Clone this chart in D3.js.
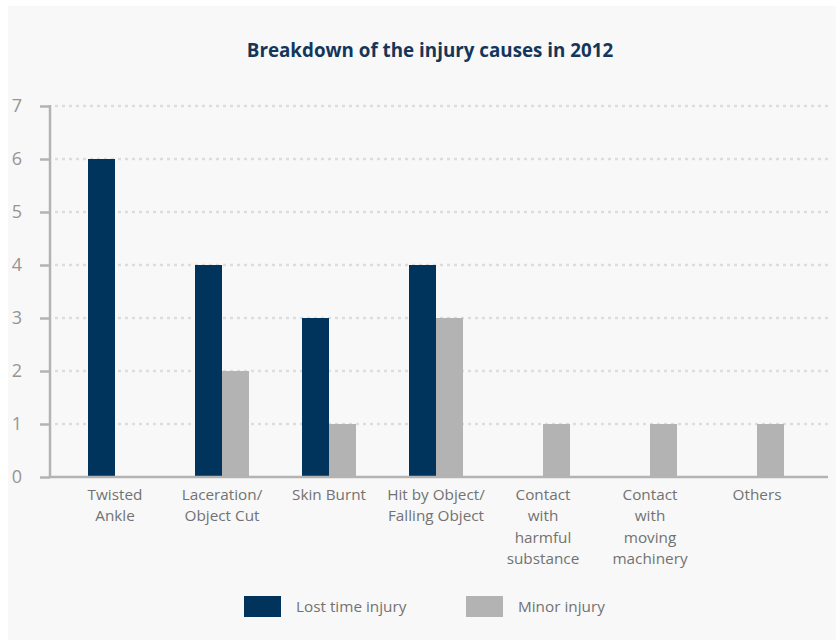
<!DOCTYPE html>
<html>
<head>
<meta charset="utf-8">
<script src="https://cdn.jsdelivr.net/npm/d3@7"></script>
<style>
  body { margin: 0; background: #ffffff; }
  svg { display: block; }
</style>
</head>
<body>
<svg id="chart"></svg>
<script>
// data
const categories = [
    ["Twisted", "Ankle"],
    ["Laceration/", "Object Cut"],
    ["Skin Burnt"],
    ["Hit by Object/", "Falling Object"],
    ["Contact", "with", "harmful", "substance"],
    ["Contact", "with", "moving", "machinery"],
    ["Others"]
];
const seriesNames = ["Lost time injury", "Minor injury"];
const lostTime = [6, 4, 3, 4, 0, 0, 0];
const minorInjury = [0, 2, 1, 3, 1, 1, 1];
const yTicks = [0, 1, 2, 3, 4, 5, 6, 7];
const colors = ["#00345c", "#b3b3b3"];

const width = 836, height = 640;
const svg = d3.select("#chart").attr("width", width).attr("height", height);

// light panel
svg.append("rect")
    .attr("x", 8).attr("y", 6)
    .attr("width", width - 8).attr("height", height - 6)
    .attr("fill", "#f8f8f8");

const axisLeft = 50, axisRight = 828;
const y = d3.scaleLinear().domain([0, 7]).range([477, 106]);

const keys = categories.map((c, i) => "c" + i);
const x0 = d3.scaleBand().domain(keys).range([61.5, 810.5]).padding(0);
const bw = x0.bandwidth();
const x1 = d3.scaleBand().domain(seriesNames).range([bw / 2 - 27, bw / 2 + 27]);

// title
svg.append("text")
    .attr("x", 430).attr("y", 57)
    .attr("text-anchor", "middle")
    .style("font-family", "'Open Sans', sans-serif")
    .style("font-weight", "bold")
    .style("font-size", "18.8px")
    .attr("fill", "#14365a")
    .text("Breakdown of the injury causes in 2012");

// dotted grid
svg.append("g")
    .selectAll("line")
    .data(yTicks.filter(d => d > 0))
    .join("line")
    .attr("x1", axisLeft + 5).attr("x2", axisRight)
    .attr("y1", d => y(d)).attr("y2", d => y(d))
    .attr("stroke", "#dddddd")
    .attr("stroke-width", 2.5)
    .attr("stroke-dasharray", "3,4");

// bars
const rows = keys.map((k, i) => ({ key: k, vals: [lostTime[i], minorInjury[i]] }));
svg.append("g")
    .selectAll("g")
    .data(rows)
    .join("g")
    .attr("transform", d => `translate(${x0(d.key)},0)`)
    .selectAll("rect")
    .data(d => d.vals.map((v, j) => ({ name: seriesNames[j], v: v, j: j })))
    .join("rect")
    .attr("x", d => x1(d.name))
    .attr("width", x1.bandwidth())
    .attr("y", d => y(d.v))
    .attr("height", d => y(0) - y(d.v))
    .attr("fill", d => colors[d.j]);

// y axis
const yAxis = svg.append("g")
    .attr("transform", `translate(${axisLeft},0)`)
    .call(d3.axisLeft(y).tickValues(yTicks).tickFormat(d3.format("d")).tickSize(10).tickPadding(18));
yAxis.select(".domain").remove();
yAxis.selectAll(".tick line").attr("stroke", "#b3b3b3").attr("stroke-width", 2.5);
yAxis.selectAll(".tick text")
    .attr("fill", "#959595")
    .style("font-family", "'Open Sans', sans-serif")
    .style("font-size", "18px");

// axis lines
svg.append("line")
    .attr("x1", axisLeft).attr("x2", axisLeft)
    .attr("y1", y(7) - 1).attr("y2", y(0))
    .attr("stroke", "#b3b3b3").attr("stroke-width", 2.5);
svg.append("line")
    .attr("x1", axisLeft - 1.25).attr("x2", axisRight)
    .attr("y1", y(0)).attr("y2", y(0))
    .attr("stroke", "#b3b3b3").attr("stroke-width", 2.5);

// category labels
const labels = svg.append("g")
    .selectAll("text")
    .data(categories)
    .join("text")
    .attr("x", (d, i) => x0(keys[i]) + bw / 2)
    .attr("y", 500)
    .attr("text-anchor", "middle")
    .attr("fill", "#727272")
    .style("font-family", "'Open Sans', sans-serif")
    .style("font-size", "15.3px");
labels.selectAll("tspan")
    .data(d => d)
    .join("tspan")
    .attr("x", function () { return d3.select(this.parentNode).attr("x"); })
    .attr("dy", (d, i) => i === 0 ? 0 : 21.3)
    .text(d => d);

// legend
const legendX = [244, 466];
const legend = svg.append("g")
    .selectAll("g")
    .data(seriesNames)
    .join("g")
    .attr("transform", (d, i) => `translate(${legendX[i]},596)`);
legend.append("rect")
    .attr("width", 37).attr("height", 21)
    .attr("fill", (d, i) => colors[i]);
legend.append("text")
    .attr("x", 52).attr("y", 15.5)
    .attr("fill", "#727272")
    .style("font-family", "'Open Sans', sans-serif")
    .style("font-size", "15.3px")
    .text(d => d);
</script>
</body>
</html>
